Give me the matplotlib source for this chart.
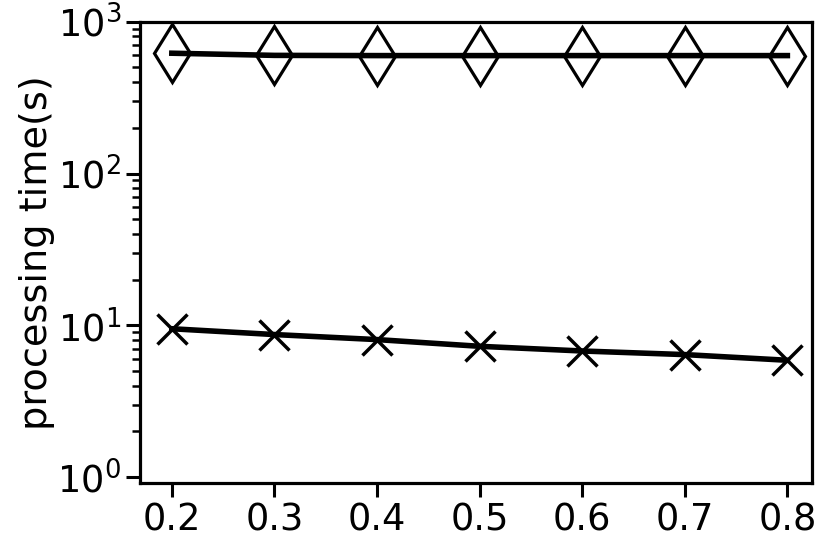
import matplotlib
matplotlib.use("Agg")
import matplotlib.pyplot as plt

# data
ratios = [0.2, 0.3, 0.4, 0.5, 0.6, 0.7, 0.8]
time_diamond = [620, 600, 598, 598, 598, 598, 598]
time_cross = [9.5, 8.7, 8.06, 7.28, 6.78, 6.42, 5.89]
x_labels = ["0.2", "0.3", "0.4", "0.5", "0.6", "0.7", "0.8"]

plt.rcParams["font.family"] = "DejaVu Sans"

fig = plt.figure(figsize=(8.3, 5.45), dpi=100)
ax = fig.add_axes([0.1687, 0.1143, 0.8096, 0.8459])

ax.plot(ratios, time_diamond, color="black", linewidth=4,
        marker="d", markersize=30, markerfacecolor="none",
        markeredgecolor="black", markeredgewidth=2.3)
ax.plot(ratios, time_cross, color="black", linewidth=4,
        marker="x", markersize=22, markeredgewidth=2.5)

ax.set_yscale("log")
ax.set_ylim(0.92, 1000)
ax.set_xlim(0.169, 0.824)
ax.set_xticks(ratios)
ax.set_xticklabels(x_labels)
ax.set_ylabel("processing time(s)", fontsize=27.5, labelpad=2)

ax.tick_params(axis="both", which="major", labelsize=26.5, length=10, width=2.2)
ax.tick_params(axis="y", which="minor", length=5.8, width=1.8)
for s in ax.spines.values():
    s.set_linewidth(2.3)

fig.savefig("out.png", dpi=100)
